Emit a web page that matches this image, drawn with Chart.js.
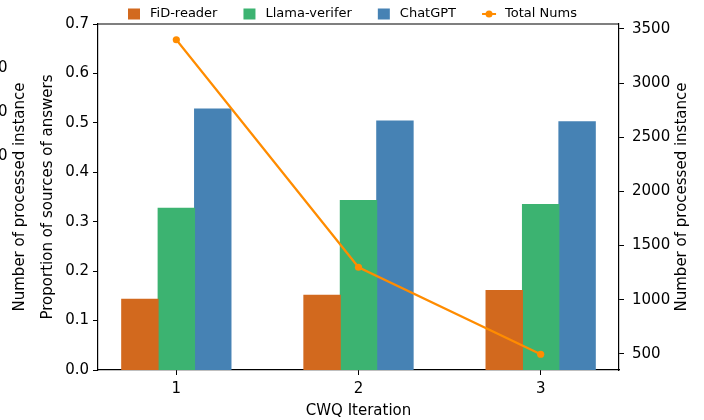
<!DOCTYPE html>
<html>
<head>
<meta charset="utf-8">
<script src="https://cdn.jsdelivr.net/npm/chart.js@4/dist/chart.umd.min.js"></script>
<style>
  html, body { margin: 0; padding: 0; background: #fff; }
  #wrap { width: 704px; height: 420px; position: relative; }
</style>
</head>
<body>
<div id="wrap"><canvas id="c" width="704" height="420"></canvas></div>
<script>
// ---- data ----
const iterations = [1, 2, 3];
const fidReader = [0.143, 0.151, 0.161];
const llamaVerifier = [0.327, 0.343, 0.335];
const chatGPT = [0.528, 0.504, 0.502];
const totalNums = [3400, 1300, 497];
const seriesNames = ['FiD-reader', 'Llama-verifer', 'ChatGPT', 'Total Nums'];
const leftTicks = [0.0, 0.1, 0.2, 0.3, 0.4, 0.5, 0.6, 0.7];
const rightTicks = [500, 1000, 1500, 2000, 2500, 3000, 3500];
const ghostTickLabels = ['0', '0', '0'];

const FONT = "'DejaVu Sans', sans-serif";
Chart.defaults.font.family = FONT;
Chart.defaults.color = '#000';

const colors = ['#D2691E', '#3CB371', '#4682B4', '#FF8C00'];

function pts(vals) { return iterations.map((x, i) => ({ x: x, y: vals[i] })); }
function setTicks(list) { return s => { s.ticks = list.map(v => ({ value: v })); }; }

const lo = Math.min(...totalNums), hi = Math.max(...totalNums);
const rMin = lo - 0.05 * (hi - lo), rMax = hi + 0.05 * (hi - lo);
const xMin = iterations[0] - 0.43, xMax = iterations[iterations.length - 1] + 0.43;

const extras = {
  id: 'extras',
  afterDatasetsDraw(chart) {
    const ctx = chart.ctx, a = chart.chartArea;
    ctx.save();
    // top spine
    ctx.strokeStyle = '#000';
    ctx.lineWidth = 1.2;
    ctx.beginPath();
    ctx.moveTo(a.left, a.top);
    ctx.lineTo(a.right, a.top);
    ctx.stroke();
    // right axis title (reads bottom-to-top)
    ctx.fillStyle = '#000';
    ctx.font = '15px ' + FONT;
    ctx.textAlign = 'center';
    ctx.textBaseline = 'middle';
    ctx.translate(682, (a.top + a.bottom) / 2);
    ctx.rotate(-Math.PI / 2);
    ctx.fillText('Number of processed instance', 0, 0);
    ctx.restore();

    // ghost left label (artifact in reference)
    ctx.save();
    ctx.fillStyle = '#000';
    ctx.font = '15px ' + FONT;
    ctx.textAlign = 'center';
    ctx.textBaseline = 'middle';
    ctx.translate(20, (a.top + a.bottom) / 2);
    ctx.rotate(-Math.PI / 2);
    ctx.fillText('Number of processed instance', 0, 0);
    ctx.restore();
    ctx.save();
    ctx.fillStyle = '#000';
    ctx.font = '15px ' + FONT;
    ctx.textAlign = 'right';
    ctx.textBaseline = 'middle';
    const gy = [68, 112, 156];
    ghostTickLabels.forEach((t, i) => ctx.fillText(t, 7.5, gy[i]));
    ctx.restore();

    // legend
    ctx.save();
    ctx.font = '13px ' + FONT;
    ctx.textBaseline = 'middle';
    ctx.textAlign = 'left';
    let x = 128;
    const y = 14;
    chart.data.datasets.forEach((ds, i) => {
      if (ds.type === 'line') {
        ctx.strokeStyle = ds.borderColor;
        ctx.lineWidth = 2;
        ctx.beginPath(); ctx.moveTo(x, y); ctx.lineTo(x + 14, y); ctx.stroke();
        ctx.fillStyle = ds.borderColor;
        ctx.beginPath(); ctx.arc(x + 7, y, 3.5, 0, Math.PI * 2); ctx.fill();
        x += 14 + 9;
      } else {
        ctx.fillStyle = ds.backgroundColor;
        ctx.fillRect(x, y - 5.5, 12, 11);
        x += 12 + 10;
      }
      ctx.fillStyle = '#000';
      ctx.fillText(ds.label, x, y);
      x += ctx.measureText(ds.label).width + 26;
    });
    ctx.restore();
  }
};

new Chart(document.getElementById('c'), {
  type: 'bar',
  data: {
    datasets: [
      { label: seriesNames[0], data: pts(fidReader), backgroundColor: colors[0], order: 1, yAxisID: 'y', inflateAmount: 0.5 },
      { label: seriesNames[1], data: pts(llamaVerifier), backgroundColor: colors[1], order: 1, yAxisID: 'y', inflateAmount: 0.5 },
      { label: seriesNames[2], data: pts(chatGPT), backgroundColor: colors[2], order: 1, yAxisID: 'y', inflateAmount: 0.5 },
      { type: 'line', label: seriesNames[3], data: pts(totalNums), borderColor: colors[3], backgroundColor: colors[3],
        borderWidth: 2.2, pointRadius: 3.6, pointBackgroundColor: colors[3], pointBorderWidth: 0, order: 0, yAxisID: 'y2' }
    ]
  },
  options: {
    responsive: false,
    animation: false,
    devicePixelRatio: 1,
    layout: { padding: { top: 24, left: 0, right: 0, bottom: 0 } },
    categoryPercentage: 0.6,
    barPercentage: 1.0,
    plugins: { legend: { display: false }, tooltip: { enabled: false } },
    scales: {
      x: {
        type: 'linear',
        offset: false,
        min: xMin, max: xMax,
        afterFit(s) { s.height = 50; },
        afterBuildTicks: setTicks(iterations),
        ticks: { padding: 5, font: { size: 15 }, callback: v => String(v) },
        grid: { offset: false, drawOnChartArea: false, drawTicks: true, tickLength: 5, tickColor: '#000', tickWidth: 1 },
        border: { display: true, color: '#000', width: 1.2 },
        title: { display: true, text: 'CWQ Iteration', font: { size: 15 }, padding: { top: 0, bottom: 0 } }
      },
      y: {
        position: 'left',
        min: 0, max: 0.7,
        afterFit(s) { s.width = 98; },
        afterBuildTicks: setTicks(leftTicks),
        ticks: { padding: 4, font: { size: 15 }, callback: v => v.toFixed(1) },
        grid: { drawOnChartArea: false, drawTicks: true, tickLength: 5, tickColor: '#000', tickWidth: 1 },
        border: { display: true, color: '#000', width: 1.2 },
        title: { display: true, text: 'Proportion of sources of answers', font: { size: 15 }, padding: { top: 39, bottom: 0 } }
      },
      y2: {
        position: 'right',
        min: rMin, max: rMax,
        afterFit(s) { s.width = 85; },
        afterBuildTicks: setTicks(rightTicks),
        ticks: { padding: 8, font: { size: 15 }, callback: v => String(Math.round(v)) },
        grid: { drawOnChartArea: false, drawTicks: true, tickLength: 5, tickColor: '#000', tickWidth: 1 },
        border: { display: true, color: '#000', width: 1.2 }
      }
    }
  },
  plugins: [extras]
});
</script>
</body>
</html>
